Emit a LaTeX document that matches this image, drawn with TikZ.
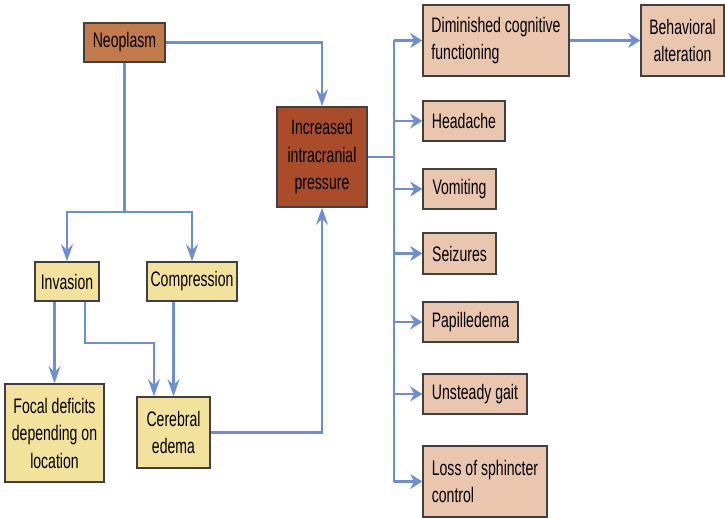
\documentclass[tikz,border=0pt]{standalone}
\usepackage{fontspec}
\setmainfont{Liberation Sans}[FakeStretch=0.67]
\usepackage{tikz}
\usetikzlibrary{arrows.meta}

\definecolor{neofill}{HTML}{C27A4B}
\definecolor{icpfill}{HTML}{A94C2A}
\definecolor{causefill}{HTML}{F2E29B}
\definecolor{signfill}{HTML}{EBC6AF}
\definecolor{linkblue}{HTML}{6B8ED6}

\begin{document}
\begin{tikzpicture}[x=1pt,y=-1pt,
        box/.style={draw=black!75,line width=1.6pt,inner sep=0pt,align=center,
                    font=\fontsize{21}{27.5}\selectfont},
        neo/.style={box,fill=neofill},
        icp/.style={box,fill=icpfill},
        cause/.style={box,fill=causefill},
        sign/.style={box,fill=signfill},
        link/.style={draw=linkblue,line width=2.3pt},
        arrv/.style={-{Stealth[length=17pt,width=12pt,inset=6pt]}},
        arrh/.style={-{Stealth[length=12pt,width=15pt,inset=4pt]}}]
    \useasboundingbox (0,0) rectangle (725,518);
    % causes (left side)
    \node[neo,minimum width=81pt,minimum height=39pt] (neo) at (124.5,42.5) {Neoplasm};
    \node[icp,minimum width=90pt,minimum height=100pt] (icp) at (322,157) {Increased\\intracranial\\pressure};
    \node[cause,minimum width=64pt,minimum height=39pt] (inv) at (67,281.5) {Invasion};
    \node[cause,minimum width=90pt,minimum height=39pt] (comp) at (192,281.5) {Compression};
    \node[cause,minimum width=99pt,minimum height=98pt] (focal) at (54.5,433) {Focal deficits\\depending on\\location};
    \node[cause,minimum width=73pt,minimum height=71pt] (edema) at (173.5,432.5) {Cerebral\\edema};
    % signs (right side)
    \node[sign,align=left,minimum width=146pt,minimum height=71pt] (dim) at (496,40.5) {Diminished cognitive\\functioning};
    \node[sign,minimum width=83pt,minimum height=71pt] (beh) at (682.5,40.5) {Behavioral\\alteration};
    \node[sign,minimum width=82pt,minimum height=40pt] (head) at (464,121) {Headache};
    \node[sign,minimum width=73pt,minimum height=40pt] (vom) at (459.5,189) {Vomiting};
    \node[sign,minimum width=73pt,minimum height=41pt] (seiz) at (459.5,253.5) {Seizures};
    \node[sign,minimum width=95pt,minimum height=40pt] (pap) at (470.5,322) {Papilledema};
    \node[sign,minimum width=104pt,minimum height=40pt] (gait) at (475,394) {Unsteady gait};
    \node[sign,align=left,minimum width=124pt,minimum height=71pt] (loss) at (485,481.5) {Loss of sphincter\\control};
    \coordinate (split) at (124.5,212);
    \coordinate (bus) at (394,157);
    % connectors
    \draw[link,arrv] (neo.east) -| (icp.north);
    \draw[link] (neo.south) -- (split);
    \draw[link,arrv] (split) -| (inv.north);
    \draw[link,arrv] (split) -| (comp.north);
    \draw[link,arrv] (focal.north |- inv.south) -- (focal.north);
    \draw[link,arrv] ([xshift=18pt]inv.south) -- ++(0,41) -| ([xshift=-19.5pt]edema.north);
    \draw[link,arrv] (edema.north |- comp.south) -- (edema.north);
    \draw[link,arrv] (edema.east) -| (icp.south);
    \draw[link] (icp.east) -- (bus);
    \draw[link] (bus |- dim.west) -- (bus |- loss.west);
    \foreach \n in {dim,head,vom,seiz,pap,gait,loss}
        \draw[link,arrh] (bus |- \n.west) -- (\n.west);
    \draw[link,arrh] (dim) -- (beh);
\end{tikzpicture}
\end{document}
